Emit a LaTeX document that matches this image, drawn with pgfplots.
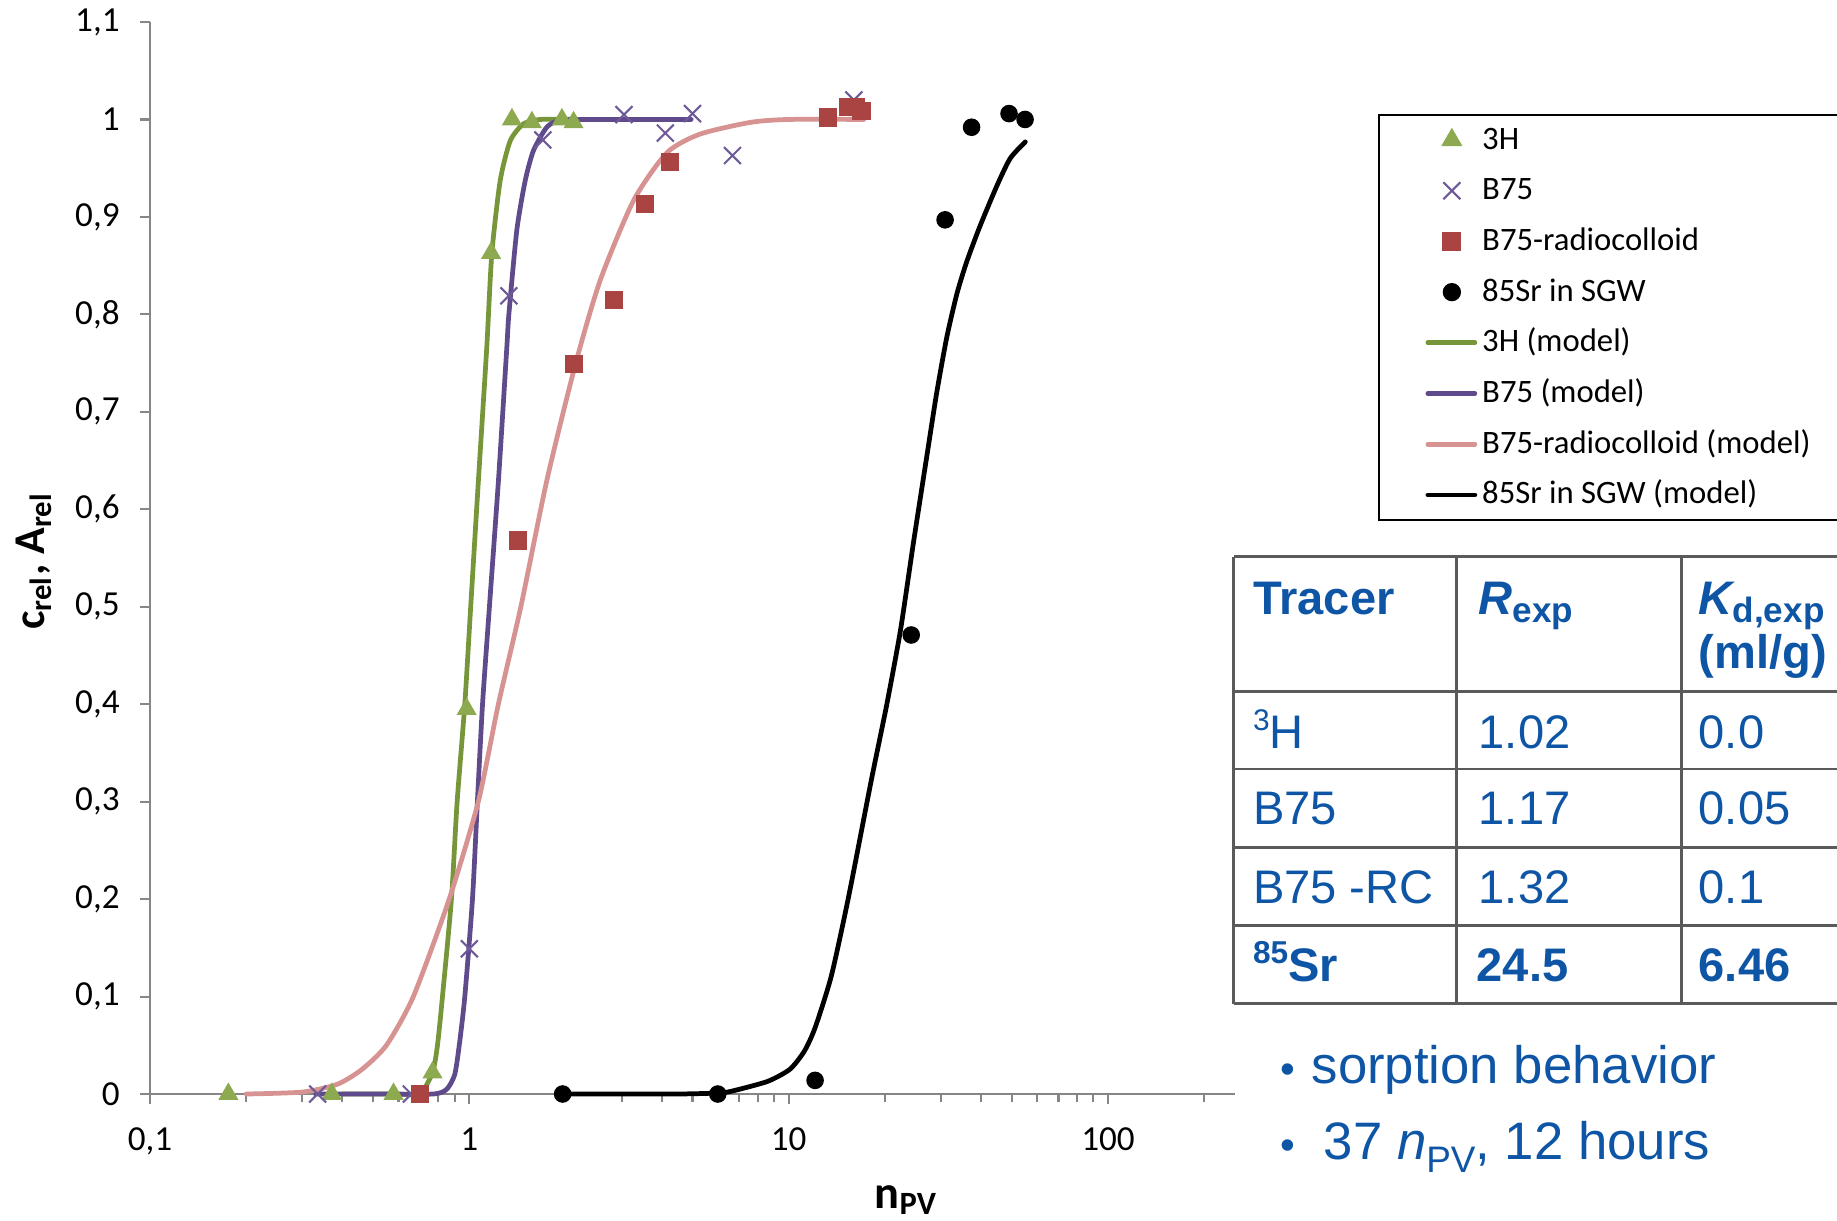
\documentclass[border=0pt]{standalone}
\usepackage{fontspec}
\setmainfont{Carlito}
\newfontfamily\arialf{Liberation Sans}
\usepackage{pgfplots}
\pgfplotsset{compat=1.18}

\definecolor{gmark}{HTML}{8EAA50}
\definecolor{gline}{HTML}{77963A}
\definecolor{pmark}{HTML}{6E5A98}
\definecolor{pline}{HTML}{5F4B8B}
\definecolor{rmark}{HTML}{A94442}
\definecolor{rline}{HTML}{D69391}
\definecolor{axgray}{HTML}{868686}
\definecolor{tblue}{HTML}{0E56A5}
\definecolor{tgray}{HTML}{5A5A5A}

\pgfplotsset{
  mklegend/.style={legend image code/.code={\path (0cm,0cm) (0.47cm,0cm); \draw[##1] plot coordinates {(0.24cm,0cm)};}},
  lnlegend/.style={legend image code/.code={\draw[##1] plot coordinates {(0cm,0cm) (0.47cm,0cm)};}},
}

\begin{document}
\begin{tikzpicture}
\begin{axis}[
  at={(1.50cm,1.26cm)}, anchor=south west,
  scale only axis, width=10.85cm, height=10.72cm,
  xmode=log, xmin=0.1, xmax=250, ymin=0, ymax=1.1,
  axis lines*=left,
  axis line style={-, draw=axgray, line width=0.6pt},
  xtick={0.1,1,10,100}, xticklabels={{0,1},1,10,100},
  minor xtick={0.2,0.3,0.4,0.5,0.6,0.7,0.8,0.9,2,3,4,5,6,7,8,9,20,30,40,50,60,70,80,90,200},
  ytick={0,0.1,0.2,0.3,0.4,0.5,0.6,0.7,0.8,0.9,1,1.1},
  yticklabels={0,{0,1},{0,2},{0,3},{0,4},{0,5},{0,6},{0,7},{0,8},{0,9},1,{1,1}},
  tick align=outside, major tick length=0.1cm, minor tick length=0.08cm,
  tick style={draw=axgray, line width=0.6pt},
  every tick label/.append style={font=\fontsize{10}{11}\selectfont},
  yticklabel style={xshift=-0.08cm},
  xticklabel style={yshift=-0.11cm},
  clip=false,
  legend style={at={(1.1317,0.9142)}, anchor=north west, draw=black, line width=0.6pt,
    inner xsep=0.465cm, inner ysep=0.10cm, row sep=0.207cm, column sep=0.03cm,
    font=\fontsize{9.3}{11}\selectfont,
    nodes={inner xsep=0.02cm, inner ysep=0pt, text height=0.24cm, text depth=0.06cm, text width=3.8cm, align=flush left}},
  legend cell align=left,
]
\addplot[mklegend, only marks, mark=triangle*, mark size=2.9pt, color=gmark] coordinates {
 (0.176,0) (0.371,0) (0.579,0) (0.767,0.022) (0.981,0.395) (1.17,0.863)
 (1.36,1.0) (1.57,0.997) (1.95,1.0) (2.12,0.997)};
\addlegendentry{3H}
\addplot[mklegend, only marks, mark=x, mark size=3.4pt, color=pmark, mark options={line width=0.6pt}] coordinates {
 (0.335,0) (0.658,0) (1.0,0.149) (1.33,0.819) (1.70,0.979) (3.05,1.005)
 (4.11,0.986) (5.0,1.006) (6.67,0.963) (16.0,1.02)};
\addlegendentry{B75}
\addplot[mklegend, only marks, mark=square*, mark size=2.4pt, color=rmark] coordinates {
 (0.70,0) (1.42,0.568) (2.13,0.749) (2.84,0.815) (3.55,0.913) (4.26,0.956)
 (13.3,1.002) (15.4,1.013) (16.2,1.013) (16.9,1.009)};
\addlegendentry{B75-radiocolloid}
\addplot[mklegend, only marks, mark=*, mark size=2.3pt, color=black] coordinates {
 (1.96,0) (6.0,0) (12.1,0.014) (24.2,0.471) (30.9,0.897) (37.4,0.992) (49,1.006) (55,1.0)};
\addlegendentry{85Sr in SGW}
\addplot[lnlegend, no marks, smooth, tension=0.4, line width=1.35pt, line cap=round, color=gline] coordinates {
 (0.4,0) (0.6,0) (0.70,0.0) (0.767,0.022) (0.795,0.05) (0.824,0.1) (0.879,0.2) (0.916,0.3)
 (0.968,0.4) (1.01,0.5) (1.068,0.63) (1.134,0.766) (1.176,0.862) (1.249,0.937)
 (1.343,0.978) (1.478,0.9955) (1.667,1.0) (2.15,1.0)};
\addlegendentry{3H (model)}
\addplot[lnlegend, no marks, smooth, tension=0.4, line width=1.35pt, line cap=round, color=pline] coordinates {
 (0.33,0) (0.5,0) (0.77,0) (0.85,0.005) (0.9,0.02) (0.93,0.05) (0.968,0.1) (1.023,0.2)
 (1.06,0.3) (1.10,0.4) (1.156,0.5) (1.234,0.63) (1.311,0.767) (1.33,0.80) (1.408,0.886)
 (1.496,0.937) (1.588,0.968) (1.748,0.992) (1.925,0.999) (2.5,1.0) (4.95,1.0)};
\addlegendentry{B75 (model)}
\addplot[lnlegend, no marks, smooth, tension=0.4, line width=1.35pt, line cap=round, color=rline] coordinates {
 (0.2,0) (0.3,0.002) (0.386,0.01) (0.46,0.025) (0.55,0.05) (0.668,0.1) (0.865,0.2)
 (1.067,0.3) (1.233,0.4) (1.45,0.5) (1.75,0.63) (2.15,0.749) (2.57,0.835) (3.27,0.917)
 (4.16,0.966) (5.28,0.985) (7.59,0.997) (10,1.0) (17.2,1.0)};
\addlegendentry{B75-radiocolloid (model)}
\addplot[lnlegend, no marks, smooth, tension=0.4, line width=1.35pt, line cap=round, color=black] coordinates {
 (1.94,0) (3,0) (4.5,0) (6,0.001) (6.65,0.003) (8.6,0.013) (10.1,0.0255) (11.2,0.044)
 (12.1,0.068) (13.6,0.121) (15.4,0.202) (18.1,0.32) (20.3,0.40) (22.4,0.476) (24.6,0.566)
 (27.1,0.655) (29.1,0.72) (31.3,0.777) (33.7,0.822) (36.2,0.855) (39.8,0.891) (44.9,0.932)
 (49.4,0.96) (55.1,0.977)};
\addlegendentry{85Sr in SGW (model)}
\end{axis}

% axis labels
\node[rotate=90, anchor=base, inner sep=0pt, font=\fontsize{12.5}{14}\selectfont\bfseries] at (0.44,6.59) {c\textsubscript{rel}, A\textsubscript{rel}};
\node[anchor=base west, inner sep=0pt, font=\fontsize{13.2}{15}\selectfont\bfseries] at (8.74,0.12) {n\textsubscript{PV}};

% table
\begin{scope}[draw=tgray, line width=0.8pt]
\foreach \yy in {6.635,5.287,4.51,3.726,2.948,2.165} {\draw (12.336,\yy) -- (18.6,\yy);}
\foreach \xx in {12.336,14.562,16.811} {\draw (\xx,6.635) -- (\xx,2.165);}
\end{scope}
\begin{scope}[every node/.style={anchor=base west, inner sep=0pt, text=tblue, font=\arialf\fontsize{13.4}{16}\selectfont}]
\node at (12.524,6.06) {\bfseries Tracer};
\node at (14.78,6.06) {\bfseries\itshape R\upshape\raisebox{-0.086cm}{\fontsize{10}{12}\selectfont exp}};
\node at (16.98,6.06) {\bfseries\itshape K\upshape\raisebox{-0.086cm}{\fontsize{10}{12}\selectfont d,exp}};
\node at (16.98,5.52) {\bfseries (ml/g)};
\node at (12.524,4.713) {\raisebox{0.18cm}{\fontsize{8.5}{10}\selectfont 3}H};
\node at (14.78,4.713) {1.02};
\node at (16.98,4.713) {0.0};
\node at (12.524,3.952) {B75};
\node at (14.78,3.952) {1.17};
\node at (16.98,3.952) {0.05};
\node at (12.524,3.17) {B75 -RC};
\node at (14.78,3.17) {1.32};
\node at (16.98,3.17) {0.1};
\node at (12.524,2.39) {\bfseries\raisebox{0.18cm}{\fontsize{9}{10}\selectfont 85}Sr};
\node at (14.76,2.39) {\bfseries 24.5};
\node at (16.98,2.39) {\bfseries 6.46};
\end{scope}
\begin{scope}[every node/.style={anchor=base west, inner sep=0pt, text=tblue, font=\arialf\fontsize{15}{18}\selectfont}]
\node at (12.80,1.365) {\fontsize{12}{14}\selectfont\textbullet};
\node at (13.11,1.365) {sorption behavior};
\node at (12.80,0.604) {\fontsize{12}{14}\selectfont\textbullet};
\node at (13.23,0.604) {37 \textit{n}\raisebox{-0.13cm}{\fontsize{10.5}{12}\selectfont PV}, 12 hours};
\end{scope}

\pgfresetboundingbox
\path[use as bounding box] (0,0) rectangle (18.37,12.20);
\end{tikzpicture}
\end{document}
